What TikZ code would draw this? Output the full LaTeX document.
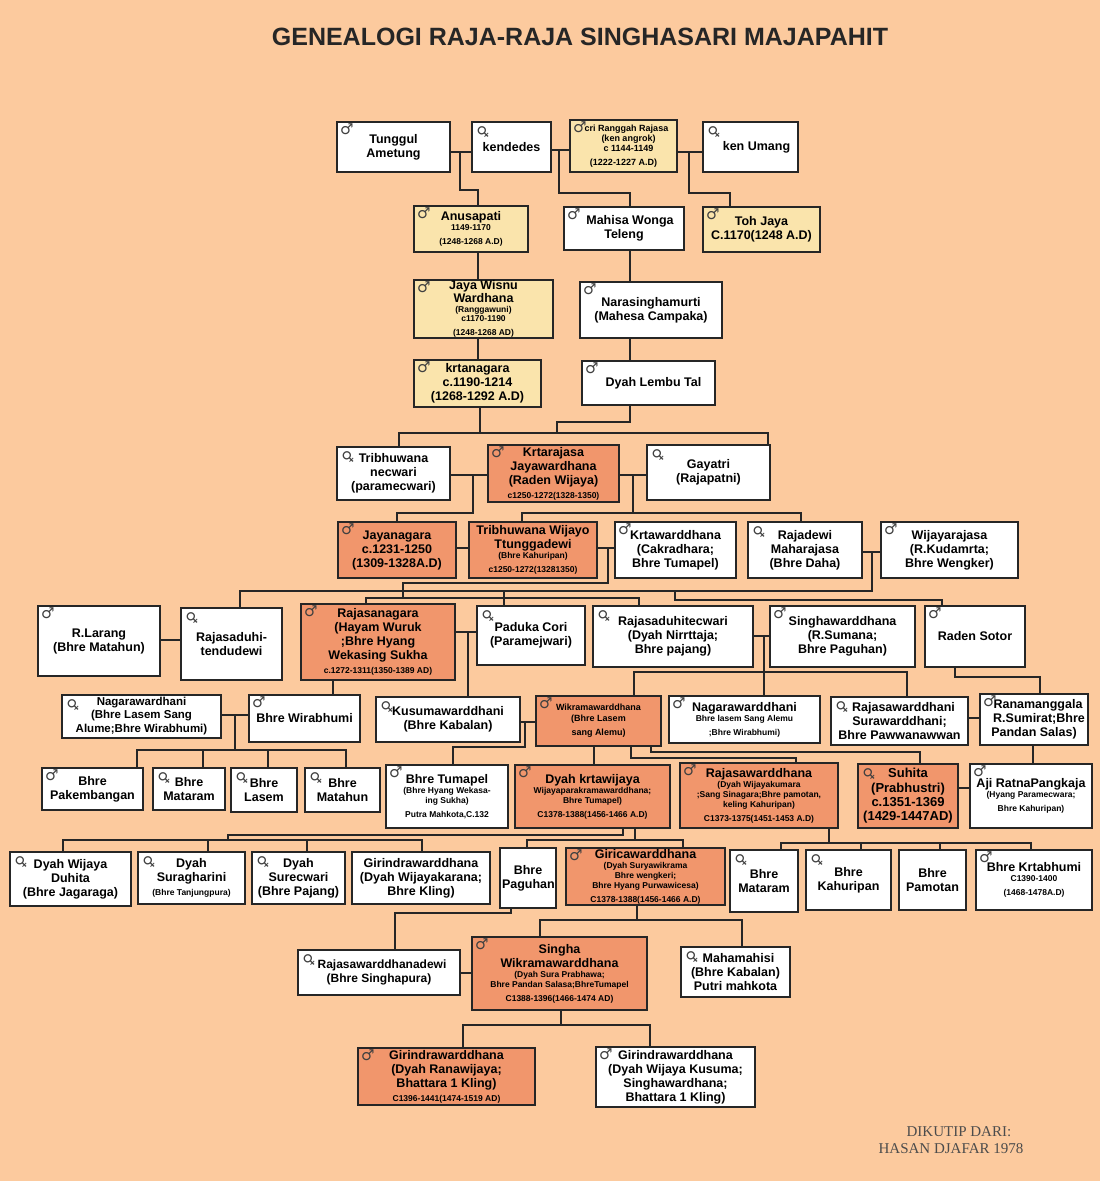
\documentclass[tikz,border=0pt]{standalone}
\usepackage{fontspec}
\setmainfont{Liberation Sans}
\newfontfamily\symf{DejaVu Sans}
\newfontfamily\serf{Liberation Serif}
\definecolor{bg}{RGB}{252,202,158}
\definecolor{yel}{RGB}{250,228,172}
\definecolor{org}{RGB}{241,150,108}
\newcommand\s{\fontsize{8.5}{10}\selectfont}
\newcommand\M{\symf\fontsize{15}{15}\selectfont ♂}
\newcommand\F{\rotatebox{45}{\symf\fontsize{15}{15}\selectfont ♀}}
\newcommand\B[8]{%
 \pgfmathsetmacro\cx{(#2+#4)/2}\pgfmathsetmacro\cy{(#3+#5)/2}%
 \pgfmathsetmacro\w{#4-#2}\pgfmathsetmacro\h{#5-#3}\pgfmathsetmacro\tw{#4-#2-4}%
 \node[box,#6,minimum width=\w pt,minimum height=\h pt,text width=\tw pt] (#1) at (\cx,\cy) {#8};%
 \ifx&#7&\else\node[anchor=north west,inner sep=0pt,text=black!75] at ([xshift=4pt,yshift=-3pt]#1.north west) {#7};\fi}
\begin{document}
\begin{tikzpicture}[x=1pt,y=-1pt,
 box/.style={draw=black!85,line width=2.4pt,fill=white,align=flush center,inner sep=0pt,
   font=\bfseries\fontsize{12.5}{14}\selectfont},
 yl/.style={fill=yel}, og/.style={fill=org},
 ln/.style={line width=2.4pt,draw=black!85}]
\useasboundingbox (0,0) rectangle (1100,1181);
\fill[bg] (0,0) rectangle (1100,1181);
\node[font=\bfseries\fontsize{25}{27}\selectfont,text=black!85] (title) at (580,37) {GENEALOGI RAJA-RAJA SINGHASARI MAJAPAHIT};
\node[font=\serf\fontsize{15}{17}\selectfont,text=black!70,align=left] (src) at (951,1140) {\hspace*{28pt}DIKUTIP DARI:\\HASAN DJAFAR 1978};
% ---------- connectors
\draw[ln] (450,152) -- (472,152) (460,152) |- (478,190) -- (478,206);
\draw[ln] (551,150) -- (570,150) (559,150) |- (630,193) -- (630,208);
\draw[ln] (677,152) -- (703,152) (689,152) |- (730,193) -- (730,207);
\draw[ln] (478,252) -- (478,280) (630,250) -- (630,282);
\draw[ln] (478,338) -- (478,360) (630,338) -- (630,361);
\draw[ln] (480,407) -- (480,433) (630,405) |- (557,422) -- (557,433);
\draw[ln] (399,447) |- (768,433) -- (768,445);
\draw[ln] (450,475) -- (488,475) (473,475) |- (397,513) -- (397,522);
\draw[ln] (619,475) -- (647,475) (633,475) -- (633,513) (522,522) |- (801,513) -- (801,522);
\draw[ln] (456,548) -- (469,548) (597,548) -- (615,548) (608,548) |- (403,583) -- (403,598);
\draw[ln] (366,604) |- (639,598) -- (639,606);
\draw[ln] (862,552) -- (881,552) (872,552) |- (240,591) -- (240,608) (504,591) -- (504,606);
\draw[ln] (675,591) |- (942,600) -- (942,606);
\draw[ln] (160,640) -- (181,640) (455,632) -- (477,632) (468,632) -- (468,697);
\draw[ln] (753,636) -- (770,636) (764,636) -- (764,672) (634,696) |- (907,672) -- (907,697) (764,672) -- (764,696);
\draw[ln] (955,667) |- (1040,677) -- (1040,694);
\draw[ln] (333,680) -- (333,695);
\draw[ln] (221,715) -- (249,715) (235,715) -- (235,750) (137,768) |- (346,750) -- (346,768) (203,750) -- (203,768) (268,750) -- (268,768);
\draw[ln] (520,722) -- (536,722) (525,722) |- (453,747) -- (453,765);
\draw[ln] (968,718) -- (980,718) (1033,745) -- (1033,764);
\draw[ln] (594,746) -- (594,765) (631,746) |- (796,758) -- (796,763) (651,746) |- (920,752) -- (920,764);
\draw[ln] (958,788) -- (970,788);
\draw[ln] (623,828) |- (228,835) -- (228,840) (63,852) |- (422,840) -- (422,852) (208,840) -- (208,852) (307,840) -- (307,852);
\draw[ln] (635,828) -- (635,840) (527,848) |- (683,840) -- (683,848);
\draw[ln] (829,828) -- (829,843) (781,850) |- (1031,843) -- (1031,850) (861,843) -- (861,850) (940,843) -- (940,850);
\draw[ln] (511,908) |- (395,913) -- (395,950);
\draw[ln] (637,905) -- (637,920) (540,937) |- (742,920) -- (742,947);
\draw[ln] (460,973) -- (472,973) (561,1010) -- (561,1025) (463,1048) |- (650,1025) -- (650,1047);
% ---------- boxes
\B{TA}{337}{122}{450}{172}{}{\M}{Tunggul\\Ametung}
\B{KD}{472}{122}{551}{172}{}{\F}{kendedes}
\B{KA}{570}{120}{677}{172}{yl}{\M}{\fontsize{9}{10}\selectfont \hspace*{6pt}cri Ranggah Rajasa\par\hspace*{10pt}(ken angrok)\par\hspace*{10pt}c 1144-1149\par(1222-1227 A.D)}
\B{KU}{703}{122}{798}{172}{}{\F}{\hspace*{12pt}ken Umang}
\B{AN}{414}{206}{528}{252}{yl}{\M}{Anusapati\par\s 1149-1170\par(1248-1268 A.D)}
\B{MW}{564}{207}{684}{250}{}{\M}{\hspace*{12pt}Mahisa Wonga\\Teleng}
\B{TJ}{703}{207}{820}{252}{yl}{\M}{Toh Jaya\\C.1170(1248 A.D)}
\B{JW}{414}{280}{553}{338}{yl}{\M}{\fontsize{12.5}{13}\selectfont Jaya Wisnu\\Wardhana\par\fontsize{8.5}{9.5}\selectfont (Ranggawuni)\par c1170-1190\par(1248-1268 AD)}
\B{NR}{580}{282}{722}{338}{}{\M}{Narasinghamurti\\(Mahesa Campaka)}
\B{KR}{414}{360}{541}{407}{yl}{\M}{krtanagara\\c.1190-1214\\(1268-1292 A.D)}
\B{DL}{582}{361}{715}{405}{}{\M}{\hspace*{10pt}Dyah Lembu Tal}
\B{TN}{337}{447}{450}{500}{}{\F}{Tribhuwana\\necwari\\(paramecwari)}
\B{KJ}{488}{445}{619}{502}{og}{\M}{Krtarajasa\\Jayawardhana\\(Raden Wijaya)\par\s c1250-1272(1328-1350)}
\B{GY}{647}{445}{770}{500}{}{\F}{Gayatri\\(Rajapatni)}
\B{JN}{338}{522}{456}{578}{og}{\M}{Jayanagara\\c.1231-1250\\(1309-1328A.D)}
\B{TW}{469}{522}{597}{578}{og}{}{Tribhuwana Wijayo\\Ttunggadewi\par\s (Bhre Kahuripan)\par c1250-1272(13281350)}
\B{KW}{615}{522}{736}{578}{}{\M}{Krtawarddhana\\(Cakradhara;\\Bhre Tumapel)}
\B{RM}{748}{522}{862}{578}{}{\F}{Rajadewi\\Maharajasa\\(Bhre Daha)}
\B{WJ}{881}{522}{1018}{578}{}{\M}{Wijayarajasa\\(R.Kudamrta;\\Bhre Wengker)}
\B{RL}{38}{606}{160}{676}{}{\M}{R.Larang\\(Bhre Matahun)}
\B{RT}{181}{608}{282}{680}{}{\F}{Rajasaduhi-\\tendudewi}
\B{RS}{301}{604}{455}{680}{og}{\M}{Rajasanagara\\(Hayam Wuruk\\;Bhre Hyang\\Wekasing Sukha\par\s c.1272-1311(1350-1389 AD)}
\B{PC}{477}{606}{585}{665}{}{\F}{Paduka Cori\\(Paramejwari)}
\B{RD}{593}{606}{753}{667}{}{\F}{Rajasaduhitecwari\\(Dyah Nirrttaja;\\Bhre pajang)}
\B{SW}{770}{606}{915}{667}{}{\M}{Singhawarddhana\\(R.Sumana;\\Bhre Paguhan)}
\B{RSo}{925}{606}{1025}{667}{}{\M}{Raden Sotor}
\B{NG}{62}{695}{221}{738}{}{\F}{\fontsize{11.5}{13}\selectfont Nagarawardhani\\(Bhre Lasem Sang\\Alume;Bhre Wirabhumi)}
\B{BW}{249}{695}{360}{742}{}{\M}{Bhre Wirabhumi}
\B{KS}{376}{697}{520}{742}{}{\F}{Kusumawarddhani\\(Bhre Kabalan)}
\B{WK}{536}{696}{661}{746}{og}{\M}{\fontsize{9}{11}\selectfont Wikramawarddhana\par(Bhre Lasem\par sang Alemu)}
\B{NW}{669}{696}{820}{743}{}{\M}{Nagarawarddhani\par\s Bhre lasem Sang Alemu\par;Bhre Wirabhumi)}
\B{RW}{831}{697}{968}{745}{}{\F}{\hspace*{8pt}Rajasawarddhani\\Surawarddhani;\\Bhre Pawwanawwan}
\B{RN}{980}{694}{1088}{745}{}{\M}{\hspace*{8pt}Ranamanggala\\\hspace*{10pt}R.Sumirat;Bhre\\Pandan Salas)}
\B{BP}{42}{768}{143}{810}{}{\M}{Bhre\\Pakembangan}
\B{BM}{153}{768}{225}{810}{}{\F}{Bhre\\Mataram}
\B{BL}{231}{768}{297}{812}{}{\F}{Bhre\\Lasem}
\B{BMh}{305}{768}{380}{812}{}{\F}{Bhre\\Matahun}
\B{BT}{386}{765}{508}{828}{}{\M}{Bhre Tumapel\par\s (Bhre Hyang Wekasa-\par ing Sukha)\par Putra Mahkota,C.132}
\B{DK}{515}{765}{670}{828}{og}{\M}{Dyah krtawijaya\par\s Wijayaparakramawarddhana;\par Bhre Tumapel)\par C1378-1388(1456-1466 A.D)}
\B{RJ}{680}{763}{838}{828}{og}{\M}{Rajasawarddhana\par\s (Dyah Wijayakumara\par;Sang Sinagara;Bhre pamotan,\par keling Kahuripan)\par C1373-1375(1451-1453 A.D)}
\B{SH}{858}{764}{958}{828}{og}{\F}{\fontsize{13}{14.5}\selectfont Suhita\\(Prabhustri)\\c.1351-1369\\(1429-1447AD)}
\B{AR}{970}{764}{1092}{828}{}{\M}{Aji RatnaPangkaja\par\s (Hyang Paramecwara;\par Bhre Kahuripan)}
\B{DW}{10}{852}{131}{906}{}{\F}{Dyah Wijaya\\Duhita\\(Bhre Jagaraga)}
\B{DS}{138}{852}{245}{904}{}{\F}{Dyah\\Suragharini\par\s (Bhre Tanjungpura)}
\B{DSu}{252}{852}{345}{904}{}{\F}{Dyah\\Surecwari\\(Bhre Pajang)}
\B{GW}{352}{852}{490}{904}{}{}{Girindrawarddhana\\(Dyah Wijayakarana;\\Bhre Kling)}
\B{BPg}{500}{848}{556}{908}{}{}{Bhre\\Paguhan}
\B{GC}{566}{848}{725}{905}{og}{\M}{Giricawarddhana\par\s (Dyah Suryawikrama\par Bhre wengkeri;\par Bhre Hyang Purwawicesa)\par C1378-1388(1456-1466 A.D)}
\B{BMt}{730}{850}{798}{912}{}{\F}{Bhre\\Mataram}
\B{BK}{806}{850}{891}{910}{}{\F}{Bhre\\Kahuripan}
\B{BPm}{899}{850}{966}{910}{}{}{Bhre\\Pamotan}
\B{BKr}{976}{850}{1092}{910}{}{\M}{Bhre Krtabhumi\par\s C1390-1400\par(1468-1478A.D)}
\B{RWd}{298}{950}{460}{995}{}{\F}{\fontsize{12}{14}\selectfont\hspace*{6pt}Rajasawarddhanadewi\\(Bhre Singhapura)}
\B{SG}{472}{937}{647}{1010}{og}{\M}{Singha\\Wikramawarddhana\par\s (Dyah Sura Prabhawa;\par Bhre Pandan Salasa;BhreTumapel\par C1388-1396(1466-1474 AD)}
\B{MM}{681}{947}{790}{997}{}{\F}{\hspace*{6pt}Mahamahisi\\(Bhre Kabalan)\\Putri mahkota}
\B{GR}{358}{1048}{535}{1105}{og}{\M}{Girindrawarddhana\\(Dyah Ranawijaya;\\Bhattara 1 Kling)\par\s C1396-1441(1474-1519 AD)}
\B{GD}{596}{1047}{755}{1107}{}{\M}{Girindrawarddhana\\(Dyah Wijaya Kusuma;\\Singhawardhana;\\Bhattara 1 Kling)}
\end{tikzpicture}
\end{document}
